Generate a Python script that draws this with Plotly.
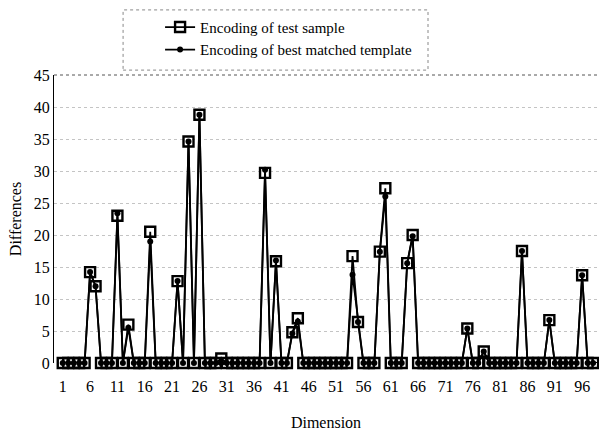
import plotly.graph_objects as go

dimension = list(range(1, 100))

test_sample = [
    0, 0, 0, 0, 0, 14.2, 12.0, 0, 0, 0,
    23.0, 0, 6.0, 0, 0, 0, 20.5, 0, 0, 0,
    0, 12.8, 0, 34.6, 0, 38.8, 0, 0, 0, 0.7,
    0, 0, 0, 0, 0, 0, 0, 29.7, 0, 15.9,
    0, 0, 4.8, 7.0, 0, 0, 0, 0, 0, 0,
    0, 0, 0, 16.7, 6.4, 0, 0, 0, 17.4, 27.3,
    0, 0, 0, 15.6, 20.0, 0, 0, 0, 0, 0,
    0, 0, 0, 0, 5.4, 0, 0, 1.8, 0, 0,
    0, 0, 0, 0, 17.5, 0, 0, 0, 0, 6.7,
    0, 0, 0, 0, 0, 13.7, 0, 0, 0,
]

best_template = [
    0, 0, 0, 0, 0, 14.2, 12.0, 0, 0, 0,
    23.4, 0, 5.5, 0, 0, 0, 19.0, 0, 0, 0,
    0, 12.8, 0, 34.6, 0, 38.8, 0, 0, 0, 0,
    0, 0, 0, 0, 0, 0, 0, 30.2, 0, 16.0,
    0, 0, 4.6, 6.5, 0, 0, 0, 0, 0, 0,
    0, 0, 0, 13.8, 6.4, 0, 0, 0, 17.4, 26.0,
    0, 0, 0, 15.6, 19.8, 0, 0, 0, 0, 0,
    0, 0, 0, 0, 5.4, 0, 0, 1.8, 0, 0,
    0, 0, 0, 0, 17.5, 0, 0, 0, 0, 6.7,
    0, 0, 0, 0, 0, 13.7, 0, 0, 0,
]

x_tick_labels = [str(v) for v in range(1, 100, 5)]
y_tick_values = [0, 5, 10, 15, 20, 25, 30, 35, 40, 45]

series_names = ["Encoding of test sample", "Encoding of best matched template"]

FONT = "Liberation Serif"

fig = go.Figure()
fig.add_trace(go.Scatter(
    x=dimension, y=test_sample, name=series_names[0],
    mode="lines+markers",
    line=dict(color="black", width=1.8),
    marker=dict(symbol="square-open", size=10, color="black", line=dict(width=2.4, color="black")),
    cliponaxis=False,
))
fig.add_trace(go.Scatter(
    x=dimension, y=best_template, name=series_names[1],
    mode="lines+markers",
    line=dict(color="black", width=1.8),
    marker=dict(symbol="circle", size=6, color="black"),
    cliponaxis=False,
))

# dashed legend frame
fig.add_shape(type="rect", xref="paper", yref="paper",
              x0=0.127, x1=0.6875, y0=1.017, y1=1.226,
              line=dict(color="#888888", width=1, dash="dot"), fillcolor="rgba(0,0,0,0)")

fig.update_layout(
    width=599, height=432,
    margin=dict(l=54, r=1, t=75, b=69, autoexpand=False),
    paper_bgcolor="white", plot_bgcolor="white",
    font=dict(family=FONT, size=15, color="black"),
    showlegend=True,
    legend=dict(
        x=0.195, y=1.223, xanchor="left", yanchor="top",
        bgcolor="rgba(0,0,0,0)", borderwidth=0,
        font=dict(family=FONT, size=15, color="black"),
        itemwidth=30,
    ),
    xaxis=dict(
        range=[-0.6, 98.9],
        tickmode="array",
        tickvals=[int(t) for t in x_tick_labels],
        ticktext=x_tick_labels,
        tickangle=0,
        showgrid=False, zeroline=False,
        showline=False, ticks="",
        ticklabelstandoff=12,
        tickfont=dict(family=FONT, size=16),
        title=dict(text="Dimension", font=dict(family=FONT, size=16), standoff=22),
    ),
    yaxis=dict(
        range=[0, 45],
        tickvals=y_tick_values,
        showgrid=True, gridcolor="#c4c4c4", griddash="dot", gridwidth=1,
        zeroline=False,
        showline=True, linecolor="black", linewidth=1, mirror=False,
        ticks="", ticklen=0,
        tickfont=dict(family=FONT, size=16),
        title=dict(text="Differences", font=dict(family=FONT, size=16), standoff=8),
    ),
)

# top border of plot area (dotted dark)
fig.add_shape(type="line", xref="paper", yref="paper", x0=0, x1=1, y0=1, y1=1,
              line=dict(color="#555555", width=1, dash="dot"))

fig.write_html("out.html")
